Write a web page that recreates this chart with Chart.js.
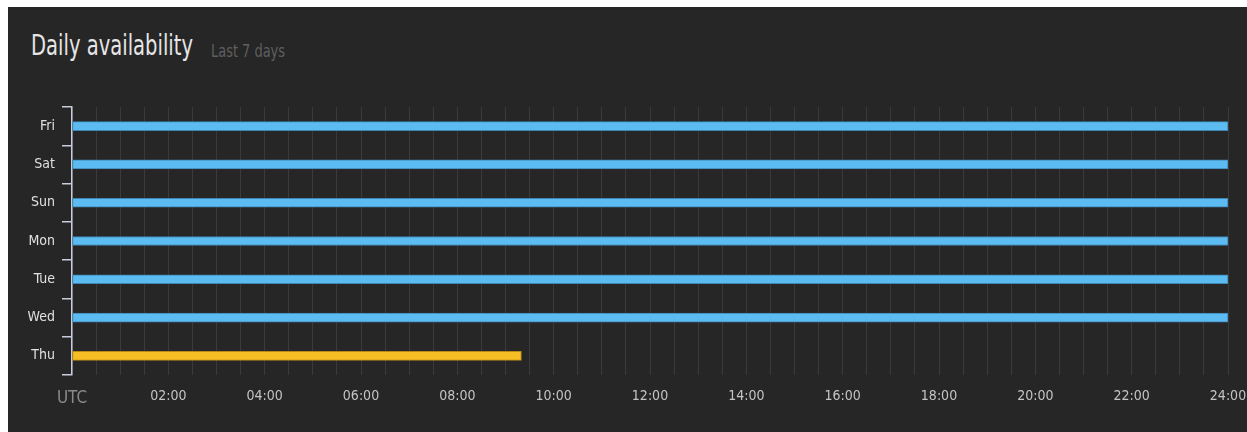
<!DOCTYPE html>
<html>
<head>
<meta charset="utf-8">
<script src="https://cdn.jsdelivr.net/npm/chart.js@4/dist/chart.umd.min.js"></script>
<style>
  html, body { margin: 0; padding: 0; background: #fff; }
  #panel {
    position: absolute; left: 8px; top: 7px; width: 1239px; height: 425px;
    background: #262626; overflow: hidden;
  }
  .ttl {
    position: absolute; white-space: nowrap; line-height: 1;
    font-family: "DejaVu Sans Condensed", "DejaVu Sans", sans-serif;
    font-stretch: condensed; transform-origin: 0 0;
  }
  #t-main { left: 23px; top: 24px; color: #e6e6e6; font-size: 29px; }
  #t-sub { left: 203px; top: 36px; color: #5f5f5f; font-size: 17px; }
  #wrap { position: absolute; left: 0; top: 0; width: 1239px; height: 425px; }
</style>
</head>
<body>
<div id="panel">
  <div class="ttl" id="t-main">Daily availability</div>
  <div class="ttl" id="t-sub">Last 7 days</div>
  <div id="wrap"><canvas id="chart"></canvas></div>
</div>
<script>
const FONT = '"DejaVu Sans Condensed", "DejaVu Sans", sans-serif';

// ─── Data ───
const days = ['Fri', 'Sat', 'Sun', 'Mon', 'Tue', 'Wed', 'Thu'];
const upStart = [0, 0, 0, 0, 0, 0, 0];
const upEnd = [24, 24, 24, 24, 24, 24, 9.33];   // hours UTC
const barColors = ['#5cbcf2', '#5cbcf2', '#5cbcf2', '#5cbcf2', '#5cbcf2', '#5cbcf2', '#f6bd24'];
const barBorders = ['#3d86b3', '#3d86b3', '#3d86b3', '#3d86b3', '#3d86b3', '#3d86b3', '#b88a16'];
const hourTicks = ['UTC', '02:00', '04:00', '06:00', '08:00', '10:00', '12:00',
  '14:00', '16:00', '18:00', '20:00', '22:00', '24:00'];

// squeeze title texts to the reference widths
function fitWidth(id, w) {
  const el = document.getElementById(id);
  el.style.transform = `scaleX(${w / el.getBoundingClientRect().width})`;
}
fitWidth('t-main', 162);
fitWidth('t-sub', 74);

new Chart(document.getElementById('chart'), {
  type: 'bar',
  data: {
    labels: days,
    datasets: [{
      data: days.map((d, i) => [upStart[i], upEnd[i]]),
      backgroundColor: barColors,
      borderColor: barBorders,
      borderWidth: 1,
      borderSkipped: false,
      barThickness: 9
    }]
  },
  options: {
    indexAxis: 'y',
    responsive: true,
    maintainAspectRatio: false,
    animation: false,
    layout: { padding: { top: 100, left: 0, right: 19, bottom: 0 } },
    plugins: { legend: { display: false }, tooltip: { enabled: false } },
    scales: {
      x: {
        type: 'linear',
        min: 0,
        max: 24,
        afterFit: s => { s.height = 57; s.paddingLeft = 0; s.paddingRight = 0; },
        border: { display: false },
        grid: { color: '#3a3a3a', lineWidth: 1, drawTicks: false },
        ticks: {
          stepSize: 0.5,
          autoSkip: false,
          maxRotation: 0,
          minRotation: 0,
          padding: 13,
          color: ctx => ctx.index === 0 ? '#8a8a8a' : '#c4c4c4',
          font: ctx => ({ family: FONT, weight: 'condensed', size: ctx.index === 0 ? 17 : 14 }),
          callback: v => (v % 2 === 0) ? hourTicks[v / 2] : ''
        }
      },
      y: {
        afterFit: s => { s.width = 64; },
        border: { display: true, color: '#c7cedb', width: 1.5 },
        grid: {
          offset: true,
          drawOnChartArea: false,
          drawTicks: true,
          tickLength: 10,
          color: '#c7cedb',
          lineWidth: 1.5
        },
        ticks: {
          color: '#e0e0e0',
          padding: 7,
          font: { family: FONT, weight: 'condensed', size: 14 }
        }
      }
    }
  }
});
</script>
</body>
</html>
